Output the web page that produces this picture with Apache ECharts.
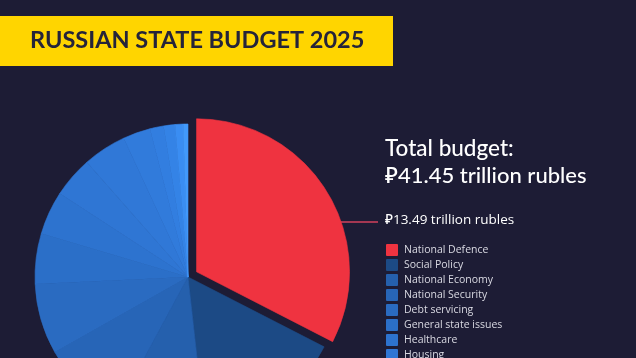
<!DOCTYPE html>
<html>
<head>
<meta charset="utf-8">
<script src="https://cdn.jsdelivr.net/npm/echarts@6/dist/echarts.min.js"></script>
<style>
html,body{margin:0;padding:0;background:#1d1c35;}
#chart{width:636px;height:358px;}
</style>
</head>
<body>
<div id="chart"></div>
<script>
const titleText = 'RUSSIAN STATE BUDGET 2025';
const totalLine1 = 'Total budget:';
const totalLine2 = '₽41.45 trillion rubles';
const defenceLabel = '₽13.49 trillion rubles';

const categories = [
  'National Defence', 'Social Policy', 'National Economy', 'National Security',
  'Debt servicing', 'General state issues', 'Healthcare', 'Housing',
  'Education', 'Interbudget transfers', 'Environment', 'Culture',
  'Physical culture and sport', 'Mass media'
];
const values = [13.49, 6.5, 4.0, 3.7, 3.1, 2.2, 1.9, 1.8, 1.9, 1.2, 0.6, 0.5, 0.35, 0.21];
const colors = [
  '#ef3340', '#1c4a85', '#2560ad', '#2765b7', '#2a6bc1', '#2b6fc8',
  '#2d73cf', '#2f76d4', '#3078d7', '#317bdb', '#327ee0', '#3483e6', '#3a8df2', '#4299fb'
];

const chart = echarts.init(document.getElementById('chart'), null, {renderer: 'canvas'});
const FONT = 'Lato, "Noto Sans", sans-serif';
const LFONT = '"Open Sans", "Noto Sans", sans-serif';

chart.setOption({
  backgroundColor: '#1d1c35',
  animation: false,
  color: colors,
  legend: {
    orient: 'vertical',
    left: 386,
    top: 244,
    height: 600,
    itemWidth: 10,
    itemHeight: 10,
    itemGap: 3,
    padding: 0,
    icon: 'rect',
    selectedMode: false,
    textStyle: {color: '#d9d9e2', fontSize: 10.5, lineHeight: 12, fontFamily: LFONT, padding: [0, 0, 0, 2]},
    data: categories
  },
  series: [{
    type: 'pie',
    center: [188, 277],
    radius: 153,
    startAngle: 90,
    clockwise: true,
    selectedMode: 'single',
    selectedOffset: 10,
    label: {show: false},
    labelLine: {show: false},
    emphasis: {disabled: true},
    data: categories.map((c, i) => ({
      name: c, value: values[i], selected: i === 0,
      itemStyle: {color: colors[i], borderColor: colors[i], borderWidth: 0.6}
    }))
  }],
  graphic: [
    {type: 'rect', left: 0, top: 16, shape: {width: 393, height: 50}, style: {fill: '#ffd500'}},
    {type: 'text', left: 30, top: 28, style: {text: titleText, fill: '#25243a', font: 'bold 23.5px ' + FONT}},
    {type: 'text', left: 385, top: 137, style: {text: totalLine1, fill: '#ffffff', font: '500 22.5px ' + FONT}},
    {type: 'text', left: 385, top: 165, style: {text: totalLine2, fill: '#ffffff', font: '500 22px ' + FONT}},
    {type: 'line', shape: {x1: 340, y1: 222, x2: 378, y2: 222}, style: {stroke: '#d2415c', lineWidth: 1.5}},
    {type: 'text', left: 385, top: 213, style: {text: defenceLabel, fill: '#ffffff', font: '500 13.5px ' + LFONT}}
  ]
});
</script>
</body>
</html>
